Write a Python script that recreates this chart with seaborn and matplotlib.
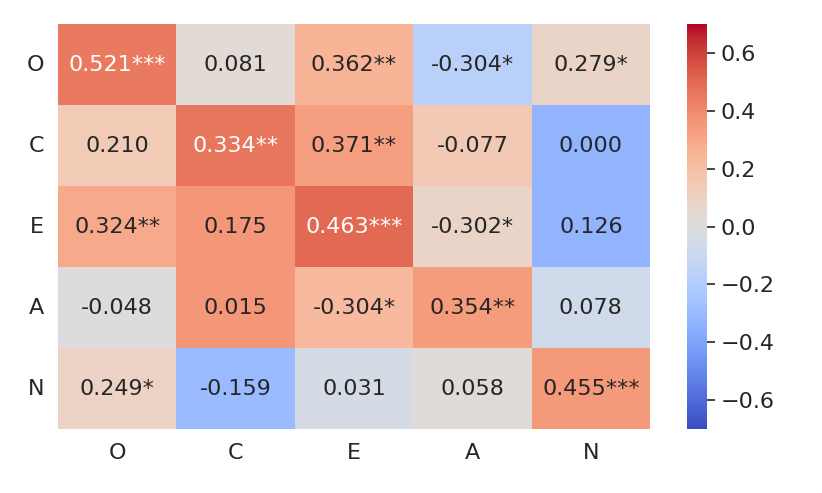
import numpy as np
import pandas as pd
import seaborn as sns
import matplotlib
matplotlib.use('Agg')
import matplotlib.pyplot as plt

traits = ['O', 'C', 'E', 'A', 'N']

colour_values = [
    [0.45, 0.03, 0.25, -0.17, 0.08],
    [0.14, 0.46, 0.33, 0.15, -0.33],
    [0.29, 0.36, 0.50, 0.08, -0.33],
    [0.00, 0.36, 0.22, 0.34, -0.07],
    [0.09, -0.30, -0.04, 0.02, 0.35],
]

# printed labels in each cell
cell_labels = [
    ['0.521***', '0.081', '0.362**', '-0.304*', '0.279*'],
    ['0.210', '0.334**', '0.371**', '-0.077', '0.000'],
    ['0.324**', '0.175', '0.463***', '-0.302*', '0.126'],
    ['-0.048', '0.015', '-0.304*', '0.354**', '0.078'],
    ['0.249*', '-0.159', '0.031', '0.058', '0.455***'],
]

# cells whose label is drawn in white
white_cells = [(0, 0), (1, 1), (2, 2)]

sns.set_theme(style='ticks', font_scale=1.45)
plt.rcParams['font.family'] = ['DejaVu Sans']

df = pd.DataFrame(colour_values, index=traits, columns=traits)

fig = plt.figure(figsize=(8.22, 4.93), dpi=100)
ax = fig.add_axes([0.0706, 0.1298, 0.7202, 0.8215])
cax = fig.add_axes([0.8358, 0.1298, 0.0243, 0.8215])

sns.heatmap(df, ax=ax, cbar_ax=cax, cmap='coolwarm', vmin=-0.7, vmax=0.7,
            annot=np.array(cell_labels), fmt='', annot_kws={'fontsize': 16})

# fix label colours
for t in ax.texts:
    x, y = t.get_position()
    cell = (int(y), int(x))
    t.set_color('white' if cell in white_cells else '#262626')

ax.tick_params(axis='both', labelsize=16, length=0, pad=10)
ax.set_yticklabels(traits, rotation=0)
ax.set_xticklabels(traits, rotation=0)
cax.set_yticks([-0.6, -0.4, -0.2, 0.0, 0.2, 0.4, 0.6])
cax.tick_params(labelsize=16, length=6, width=1.4, color='#444444', pad=4)

fig.savefig('out.png', dpi=100)
